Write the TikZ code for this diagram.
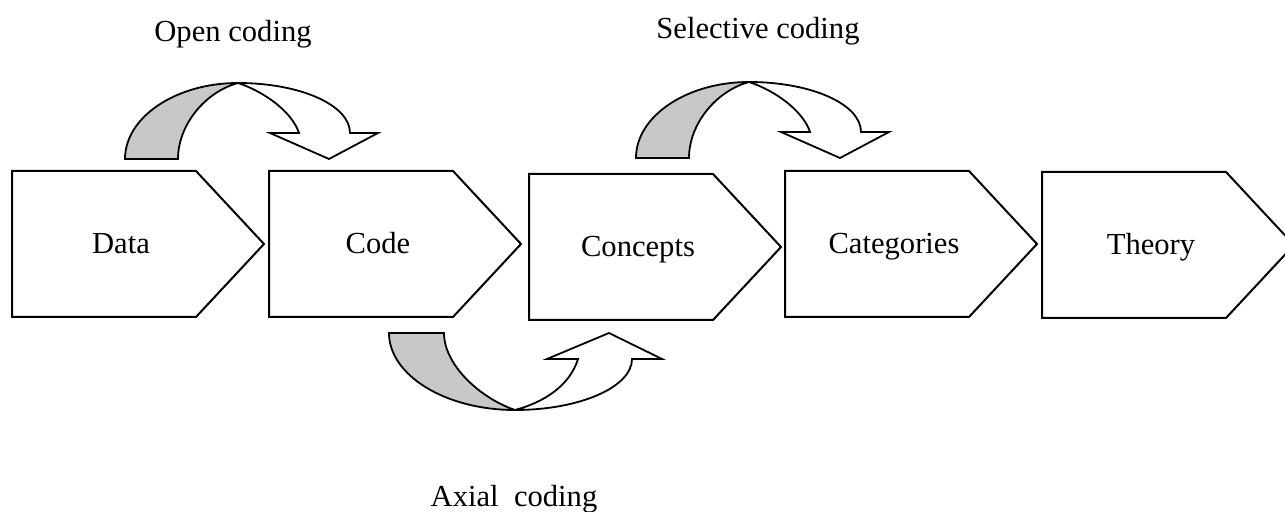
\documentclass[tikz,border=0pt]{standalone}
\usepackage{fontspec}
\setmainfont{Liberation Serif}
\usetikzlibrary{calc}
\definecolor{backcol}{HTML}{C8C8C8}

% pentagon stage: name, left x, top y, text
\newcommand{\stagebox}[4]{%
  \draw[stageline] (#2,#3) -- ++(184,0) -- ++(68,73) -- ++(-68,73) -- ++(-184,0) -- cycle;
  \node[stagetext, anchor=base] (#1) at (#2+109,#3+83) {#4};
}
% arrow bending over the top of the stages
\newcommand{\overarrow}[1]{%
  \begin{scope}[shift={#1}]
    \draw[bendline, fill=backcol] (125,159) -- (178,159)
      .. controls (178,125) and (205,92) .. (238,83)
      .. controls (176,83) and (125,117) .. (125,159) -- cycle;
    \draw[bendline, fill=white] (238,83)
      .. controls (300,83) and (350,105) .. (350,133)
      -- (378,133) -- (329,159) -- (270,133) -- (299,133)
      .. controls (292,112) and (265,92) .. (238,83) -- cycle;
  \end{scope}
}

\begin{document}
\begin{tikzpicture}[
  x=0.5pt, y=-0.5pt,
  stageline/.style={draw=black, line width=1pt, fill=white, line join=miter},
  bendline/.style={draw=black, line width=0.9pt},
  stagetext/.style={font=\fontsize{15.3}{18}\selectfont, inner sep=0pt},
  tag/.style={font=\fontsize{15.3}{18}\selectfont, inner sep=0pt, anchor=base}
]
  \useasboundingbox (0,0) rectangle (1285,512);

  % stages
  \stagebox{data}{12}{171}{Data}
  \stagebox{code}{269}{171}{Code}
  \stagebox{concepts}{529}{174}{Concepts}
  \stagebox{categories}{785}{171}{Categories}
  \stagebox{theory}{1042}{172}{Theory}

  % coding arrows
  \overarrow{(0,0)}
  \overarrow{(511,-1)}

  \draw[bendline, fill=backcol] (389,333) -- (444,333)
    .. controls (444,365) and (480,398) .. (515,410)
    .. controls (445,410) and (389,375) .. (389,333) -- cycle;
  \draw[bendline, fill=white] (515,410)
    .. controls (580,410) and (632,387) .. (632,359)
    -- (662,359) -- (609,333) -- (547,359) -- (578,359)
    .. controls (570,385) and (545,402) .. (515,410) -- cycle;

  % labels
  \node[tag] (open) at (233,42) {Open coding};
  \node[tag] (selective) at (758,39) {Selective coding};
  \node[tag] (axial) at (514,507) {Axial\ \ coding};
\end{tikzpicture}
\end{document}
